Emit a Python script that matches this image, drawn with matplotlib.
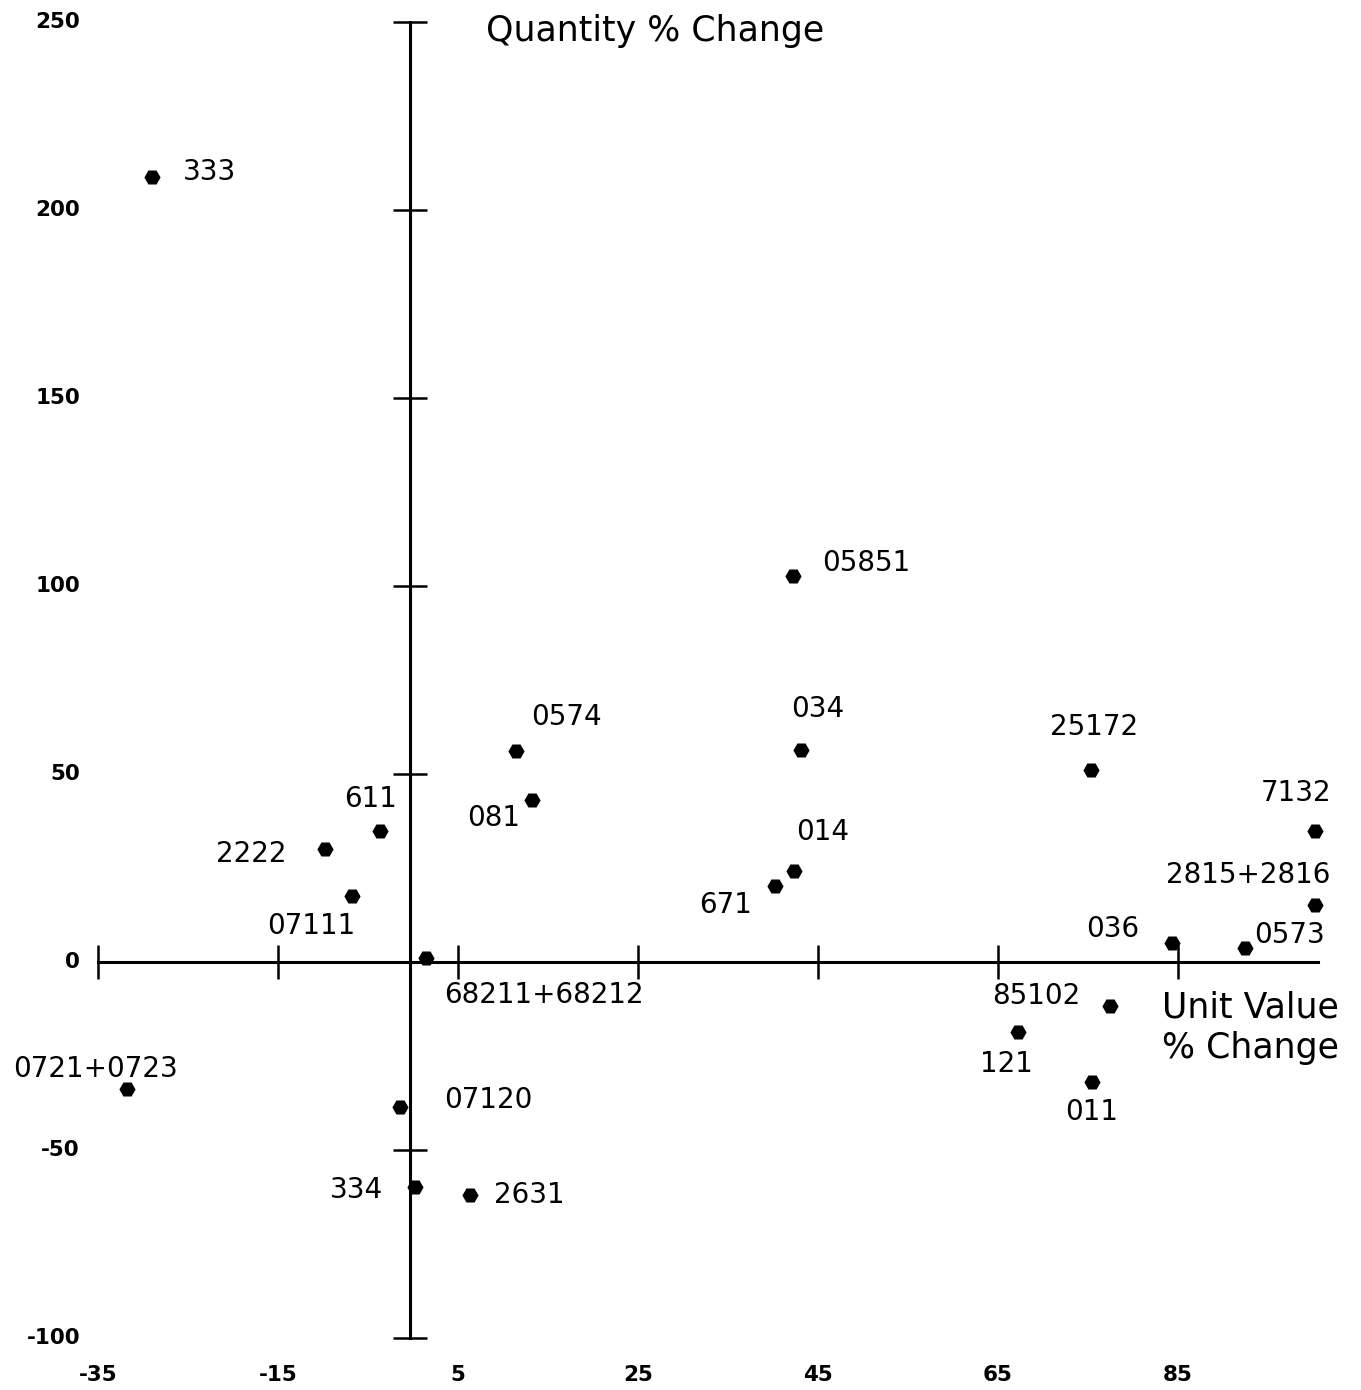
import matplotlib.pyplot as plt
from matplotlib.transforms import blended_transform_factory


# ============================================================
# UNIT VALUE vs QUANTITY % CHANGE BY COMMODITY CODE
# ============================================================

codes = ["333", "05851", "0574", "081", "034", "25172", "7132", "611",
         "2222", "07111", "014", "671", "2815+2816", "036", "0573",
         "68211+68212", "85102", "121", "011", "0721+0723", "07120",
         "334", "2631"]

unit_value_change = [-29.0, 42.2, 11.4, 13.2, 43.1, 75.3, 100.2, -3.7,
                     -9.8, -6.8, 42.3, 40.2, 100.2, 84.3, 92.4,
                     1.4, 77.4, 67.2, 75.4, -31.8, -1.4,
                     0.2, 6.3]

quantity_change = [208.8, 102.7, 56.1, 43.1, 56.4, 51.1, 34.8, 34.8,
                   30.1, 17.6, 24.2, 20.2, 15.2, 5.1, 3.7,
                   1.1, -11.7, -18.6, -31.9, -33.8, -38.6,
                   -59.8, -62.0]

x_ticks = [-35, -15, 5, 25, 45, 65, 85]
y_ticks = [-100, -50, 0, 50, 100, 150, 200, 250]

# label placement: offset in pixels and horizontal alignment
label_pos = {
    "333": (31, 5, "left"),
    "05851": (29, 13, "left"),
    "0574": (16, 34, "left"),
    "081": (-12, -18, "right"),
    "034": (17, 41, "center"),
    "25172": (3, 43, "center"),
    "7132": (-19, 38, "center"),
    "611": (-9, 32, "center"),
    "2222": (-38, -5, "right"),
    "07111": (-41, -30, "center"),
    "014": (29, 39, "center"),
    "671": (-23, -19, "right"),
    "2815+2816": (-67, 30, "center"),
    "036": (-32, 14, "right"),
    "0573": (10, 13, "left"),
    "68211+68212": (19, -37, "left"),
    "85102": (-29, 10, "right"),
    "121": (-11, -32, "center"),
    "011": (0, -30, "center"),
    "0721+0723": (-31, 20, "center"),
    "07120": (44, 7, "left"),
    "334": (-32, -3, "right"),
    "2631": (24, 0, "left"),
}

W, H = 1361, 1390
fig = plt.figure(figsize=(W / 100, H / 100), dpi=100)
ax = fig.add_axes([98 / W, 1 - 1338 / H, 1224 / W, 1316 / H])

ax.set_xlim(-35, 101)
ax.set_ylim(-100, 250)

# crossing axes
for side in ["top", "right"]:
    ax.spines[side].set_visible(False)
ax.spines["left"].set_position(("data", -0.3))
ax.spines["bottom"].set_position(("data", 0))
ax.spines["bottom"].set_bounds(-35, 100.5)
for side in ["left", "bottom"]:
    ax.spines[side].set_linewidth(2.2)
    ax.spines[side].set_color("black")

ax.set_xticks(x_ticks)
ax.set_yticks(y_ticks)
ax.tick_params(direction="inout", length=24, width=1.8, labelbottom=False,
               labelleft=False)

# points
ax.plot(unit_value_change, quantity_change, linestyle="none", marker="H",
        markersize=10.5, color="black", clip_on=False, zorder=3)

for code, xv, yv in zip(codes, unit_value_change, quantity_change):
    dx, dy, ha = label_pos[code]
    ax.annotate(code, (xv, yv), xytext=(dx, dy), textcoords="offset pixels",
                ha=ha, va="center", fontsize=20, annotation_clip=False)

# tick labels at the figure edges
ytrans = blended_transform_factory(fig.transFigure, ax.transData)
for v in y_ticks:
    fig.text(80 / W, v, str(v), transform=ytrans, ha="right", va="center",
             fontsize=15.5, fontweight="bold")

xtrans = blended_transform_factory(ax.transData, fig.transFigure)
for v in x_ticks:
    fig.text(v, 1 - 1375 / H, str(v), transform=xtrans, ha="center",
             va="center", fontsize=15.5, fontweight="bold")

# axis titles
ax.text(8.1, 247.5, "Quantity % Change", ha="left", va="center", fontsize=25)
ax.text(93.1, -17.5, "Unit Value\n% Change", ha="center", va="center",
        fontsize=25, linespacing=1.25)

plt.savefig("out.png", dpi=100)
